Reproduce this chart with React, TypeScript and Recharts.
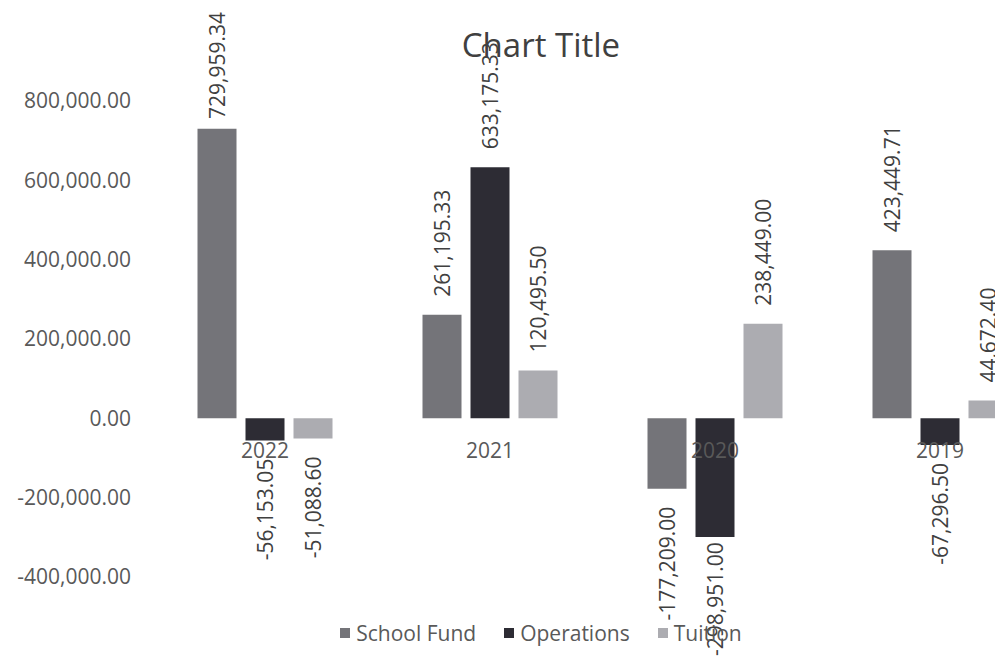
import { BarChart, Bar, XAxis, YAxis, Legend, LabelList } from "recharts"

const years = ["2022", "2021", "2020", "2019"]
const schoolFund = [729959.34, 261195.33, -177209.0, 423449.71]
const operations = [-56153.05, 633175.33, -298951.0, -67296.5]
const tuition = [-51088.6, 120495.5, 238449.0, 44672.4]
const yTicks = [-400000, -200000, 0, 200000, 400000, 600000, 800000]

const data = years.map((year, i) => ({
  year,
  schoolFund: schoolFund[i],
  operations: operations[i],
  tuition: tuition[i],
}))

const series = [
  { key: "schoolFund", name: "School Fund", color: "#747479" },
  { key: "operations", name: "Operations", color: "#2d2c34" },
  { key: "tuition", name: "Tuition", color: "#acacb1" },
]

const FONT = "'Open Sans', sans-serif"
const FS = 21

const fmt = (v: number) =>
  v.toLocaleString("en-US", { minimumFractionDigits: 2, maximumFractionDigits: 2 })

// rough text length so labels can be kept inside the chart, like Excel does
const textLen = (s: string) =>
  s.split("").reduce((acc, c) => acc + (/[0-9]/.test(c) ? 0.572 : c === "-" ? 0.32 : 0.26), 0) * FS

function barBox(props: any) {
  const vb = props.viewBox && props.viewBox.width !== undefined ? props.viewBox : props
  const x = Number(vb.x)
  const y = Number(vb.y)
  const w = Number(vb.width)
  const h = Number(vb.height)
  return { cx: x + w / 2, top: Math.min(y, y + h), bottom: Math.max(y, y + h) }
}

// rotated value label, outside end of the bar
function ValueLabel(props: any) {
  const v = Number(props.value)
  const label = fmt(v)
  const { cx, top, bottom } = barBox(props)
  let ty = v >= 0 ? top - 18 : bottom + 18
  if (v >= 0) ty = Math.max(ty, 12 + textLen(label))
  else ty = Math.min(ty, 656 - textLen(label))
  return (
    <text
      x={cx}
      y={ty}
      transform={`rotate(-90 ${cx} ${ty})`}
      textAnchor={v >= 0 ? "start" : "end"}
      dominantBaseline="central"
      fill="#404040"
      fontSize={FS}
      fontFamily={FONT}
    >
      {label}
    </text>
  )
}

// category name sits just under the zero line, centred on the middle bar
function CategoryLabel(props: any) {
  const i = Number(props.index)
  const { cx, top, bottom } = barBox(props)
  const zero = operations[i] >= 0 ? bottom : top
  return (
    <text
      x={cx}
      y={zero + 32}
      textAnchor="middle"
      dominantBaseline="central"
      fill="#595959"
      fontSize={FS}
      fontFamily={FONT}
    >
      {years[i]}
    </text>
  )
}

function LegendContent() {
  return (
    <div
      style={{
        height: 81,
        boxSizing: "border-box",
        paddingTop: 31,
        display: "flex",
        justifyContent: "center",
        gap: 28,
        fontFamily: FONT,
        fontSize: FS,
        lineHeight: "21px",
        color: "#595959",
      }}
    >
      {series.map((s) => (
        <div key={s.key} style={{ display: "flex", alignItems: "center", gap: 6 }}>
          <span style={{ width: 10, height: 10, background: s.color, display: "inline-block" }} />
          <span>{s.name}</span>
        </div>
      ))}
    </div>
  )
}

export default function App() {
  return (
    <div
      style={{
        position: "absolute",
        left: 0,
        top: 0,
        width: 995,
        height: 658,
        overflow: "hidden",
        background: "#fff",
      }}
    >
      <div
        style={{
          position: "absolute",
          left: 0,
          top: 25,
          width: 1082,
          textAlign: "center",
          fontFamily: FONT,
          fontSize: 33,
          lineHeight: "40px",
          color: "#404040",
        }}
      >
        Chart Title
      </div>
      <BarChart
        width={1082}
        height={658}
        data={data}
        margin={{ top: 101, right: 29.5, left: 0, bottom: 0 }}
        barCategoryGap="20%"
        barGap={9}
      >
        <XAxis dataKey="year" hide />
        <YAxis
          width={152.5}
          domain={[-400000, 800000]}
          ticks={yTicks}
          tickFormatter={fmt}
          axisLine={false}
          tickLine={false}
          tickSize={0}
          tickMargin={21.5}
          tick={{ fill: "#595959", fontSize: FS, fontFamily: FONT }}
        />
        <Legend
          verticalAlign="bottom"
          content={<LegendContent />}
          wrapperStyle={{ left: 0, width: 1082 }}
        />
        {series.map((s) => (
          <Bar key={s.key} dataKey={s.key} name={s.name} fill={s.color} isAnimationActive={false}>
            <LabelList dataKey={s.key} content={<ValueLabel />} />
            {s.key === "operations" && <LabelList dataKey="year" content={<CategoryLabel />} />}
          </Bar>
        ))}
      </BarChart>
    </div>
  )
}
